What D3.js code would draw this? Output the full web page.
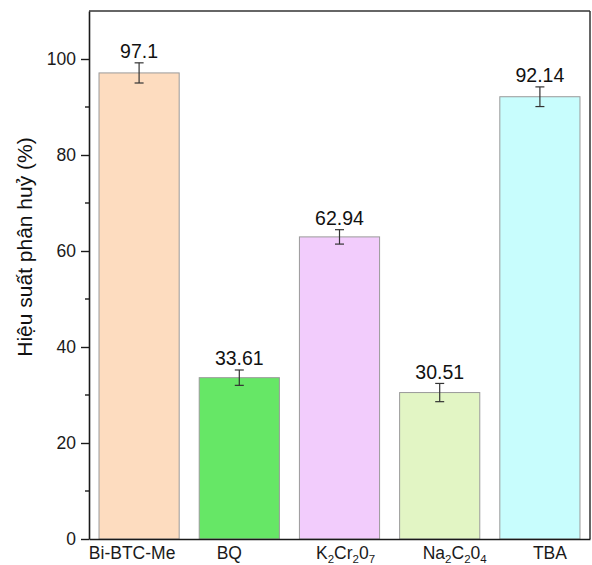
<!DOCTYPE html>
<html>
<head>
<meta charset="utf-8">
<script src="https://cdn.jsdelivr.net/npm/d3@7"></script>
<style>
  html, body { margin: 0; padding: 0; background: #fff; }
  svg { display: block; font-family: "Liberation Sans", Arial, sans-serif; }
</style>
</head>
<body>
<svg id="chart" width="592" height="565"></svg>
<script>
// Scavenger test: degradation efficiency per condition
const categories = ["Bi-BTC-Me", "BQ", "K2Cr2O7", "Na2C2O4", "TBA"];
const values = [97.1, 33.61, 62.94, 30.51, 92.14];
const errors = [2.1, 1.6, 1.5, 1.9, 2.05];
const barColors = ["#fddcbf", "#66e766", "#f2ccfc", "#e2f5c4", "#c8fdfd"];
// category labels with subscript digits: [text, isSub]
const tickParts = [
  [["Bi-BTC-Me", false]],
  [["BQ", false]],
  [["K", false], ["2", true], ["Cr", false], ["2", true], ["0", false], ["7", true]],
  [["Na", false], ["2", true], ["C", false], ["2", true], ["0", false], ["4", true]],
  [["TBA", false]]
];
const yMajor = [0, 20, 40, 60, 80, 100];
const yMinor = [10, 30, 50, 70, 90];
const yTitle = "Hiệu suất phân huỷ (%)";

// horizontal nudge of each category label (px)
const labelNudge = [-7, -10, 6, 15, 10];

const svg = d3.select("#chart");
const margin = { left: 89, right: 2, top: 11, bottom: 26 };
const W = 592, H = 565;
const plotW = W - margin.left - margin.right;
const plotH = H - margin.top - margin.bottom;

const x = d3.scaleBand().domain(categories).range([0, plotW]).paddingInner(0.2).paddingOuter(0.1);
const y = d3.scaleLinear().domain([0, 110]).range([plotH, 0]);

const g = svg.append("g").attr("transform", `translate(${margin.left},${margin.top})`);

// bars
g.selectAll("rect.bar").data(categories).join("rect")
  .attr("class", "bar")
  .attr("x", d => x(d))
  .attr("width", x.bandwidth())
  .attr("y", (d, i) => y(values[i]))
  .attr("height", (d, i) => y(0) - y(values[i]))
  .attr("fill", (d, i) => barColors[i])
  .attr("stroke", "#9a9a9a")
  .attr("stroke-width", 1);

// error bars
const cap = 4.5;
const eb = g.selectAll("g.err").data(categories).join("g").attr("class", "err")
  .attr("transform", d => `translate(${x(d) + x.bandwidth() / 2},0)`);
eb.append("line").attr("y1", (d, i) => y(values[i] + errors[i])).attr("y2", (d, i) => y(values[i] - errors[i]))
  .attr("stroke", "#333").attr("stroke-width", 1.2);
eb.append("line").attr("x1", -cap).attr("x2", cap)
  .attr("y1", (d, i) => y(values[i] + errors[i])).attr("y2", (d, i) => y(values[i] + errors[i]))
  .attr("stroke", "#333").attr("stroke-width", 1.2);
eb.append("line").attr("x1", -cap).attr("x2", cap)
  .attr("y1", (d, i) => y(values[i] - errors[i])).attr("y2", (d, i) => y(values[i] - errors[i]))
  .attr("stroke", "#333").attr("stroke-width", 1.2);

// value labels
g.selectAll("text.val").data(categories).join("text")
  .attr("class", "val")
  .attr("x", d => x(d) + x.bandwidth() / 2)
  .attr("y", (d, i) => y(values[i] + errors[i]) - 4.5)
  .attr("text-anchor", "middle")
  .attr("font-size", 19.5)
  .attr("fill", "#111")
  .text((d, i) => String(values[i]));

// frame: top and right
g.append("line").attr("x1", 0).attr("x2", plotW).attr("y1", 0).attr("y2", 0)
  .attr("stroke", "#333").attr("stroke-width", 1.5);
g.append("line").attr("x1", plotW).attr("x2", plotW).attr("y1", 0).attr("y2", plotH)
  .attr("stroke", "#333").attr("stroke-width", 1.5);

// y axis
const yAxis = g.append("g").call(d3.axisLeft(y).tickValues(yMajor).tickSize(8).tickPadding(5).tickSizeOuter(0));
yAxis.select(".domain").attr("stroke", "#1a1a1a").attr("stroke-width", 1.6);
yAxis.selectAll(".tick line").attr("stroke", "#1a1a1a").attr("stroke-width", 1.4);
yAxis.selectAll(".tick text").attr("font-size", 17.5).attr("fill", "#1a1a1a")
  .attr("font-family", "Liberation Sans, Arial, sans-serif");
g.append("g").selectAll("line").data(yMinor).join("line")
  .attr("x1", -4).attr("x2", 0).attr("y1", d => y(d)).attr("y2", d => y(d))
  .attr("stroke", "#1a1a1a").attr("stroke-width", 1.4);

// x axis
const xAxis = g.append("g").attr("transform", `translate(0,${plotH})`)
  .call(d3.axisBottom(x).tickSize(0).tickSizeOuter(0).tickFormat(""));
xAxis.select(".domain").attr("stroke", "#1a1a1a").attr("stroke-width", 1.6);
xAxis.selectAll(".tick").each(function(d, i) {
  const t = d3.select(this).append("text")
    .attr("x", labelNudge[i])
    .attr("y", 20).attr("text-anchor", "middle")
    .attr("font-size", 17.5).attr("fill", "#1a1a1a")
    .attr("font-family", "Liberation Sans, Arial, sans-serif");
  tickParts[i].forEach(([s, sub], k) => {
    const ts = t.append("tspan").text(s);
    if (sub) ts.attr("font-size", 11.5).attr("dy", 4);
    else if (k > 0 && tickParts[i][k - 1][1]) ts.attr("dy", -4);
  });
});

// y title
svg.append("text")
  .attr("transform", `translate(32,247) rotate(-90)`)
  .attr("text-anchor", "middle")
  .attr("font-size", 21)
  .attr("fill", "#111")
  .text(yTitle);
</script>
</body>
</html>
